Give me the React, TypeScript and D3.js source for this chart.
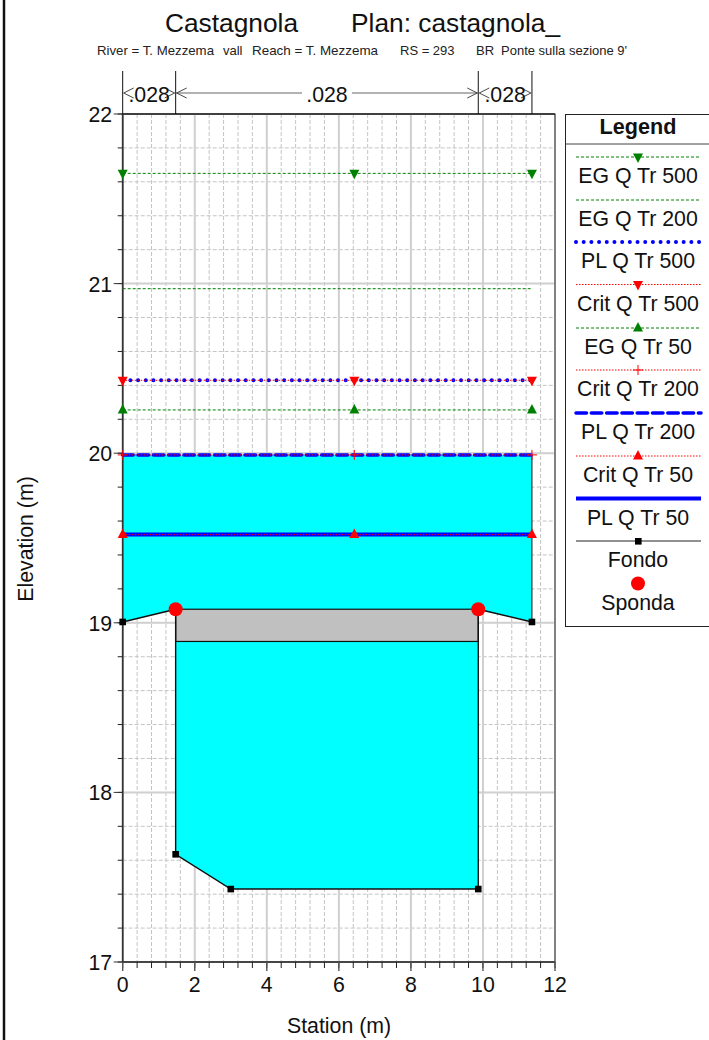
import React from "react";
import * as d3 from "d3";

const sectionStations = [0, 6.43, 11.36];
const profileNames = ["Fondo"];
const groundX = [0, 1.47, 1.47, 3.0, 9.87, 9.87, 11.36];
const groundY = [19.005, 19.08, 17.635, 17.43, 17.43, 19.08, 19.005];
const bankX = [1.47, 9.87];
const bankY = [19.08, 19.08];
const deckLow = 18.89;
const deckHigh = 19.08;
const fillLevel = 19.99;
const nBreaks = [0, 1.47, 9.87, 11.36];
const nLabels = [".028", ".028", ".028"];
const xTicks = [0, 2, 4, 6, 8, 10, 12];
const yTicks = [17, 18, 19, 20, 21, 22];
const xMinor = d3.range(0, 12.01, 0.4);
const yMinor = d3.range(17, 22.01, 0.2);

type Mk = "down" | "up" | "plus" | "none";
const wsNames = ["EG Q Tr 500", "EG Q Tr 200", "PL Q Tr 500", "Crit Q Tr 500", "EG Q Tr 50", "Crit Q Tr 200", "PL Q Tr 200", "Crit Q Tr 50", "PL Q Tr 50"];
const wsValues = [21.65, 20.97, 20.43, 20.43, 20.255, 19.99, 19.99, 19.52, 19.52];
const wsColors = ["#008000", "#008000", "#0000ff", "#ff0000", "#008000", "#ff0000", "#0000ff", "#ff0000", "#0000ff"];
const wsWidths = [1, 1, 4, 1, 1, 1, 3.5, 1, 4];
const wsDash = ["3 2", "3 2", "0.01 7.68", "1.5 1.5", "3 2", "1.5 1.5", "10.5 4.8", "1.5 1.5", ""];
const wsMarks: Mk[] = ["down", "none", "none", "down", "up", "plus", "none", "up", "none"];
const legendLineY = [157, 200, 242, 284.5, 328, 370, 413, 456, 498.5];
const drawOrder = [8, 6, 2, 7, 5, 4, 3, 1, 0];

const x = d3.scaleLinear().domain([0, 12]).range([122.7, 555]);
const y = d3.scaleLinear().domain([17, 22]).range([962, 114]);
const ln = d3.line<number>().x((_, i) => x(groundX[i])).y((_, i) => y(groundY[i]));
const FONT = "'Liberation Sans', Arial, sans-serif";
const FS = 21.3;

function Marker({ kind, cx, cy, color }: { kind: Mk; cx: number; cy: number; color: string }) {
  if (kind === "none") return null;
  if (kind === "plus")
    return <path d={`M${cx - 5},${cy}H${cx + 5}M${cx},${cy - 5}V${cy + 5}`} stroke={color} strokeWidth={1} fill="none" />;
  const d = kind === "down"
    ? `M${cx - 5},${cy - 3.5}H${cx + 5}L${cx},${cy + 6}Z`
    : `M${cx - 5},${cy + 3.5}H${cx + 5}L${cx},${cy - 6}Z`;
  return <path d={d} fill={color} />;
}

const roundCap = (i: number) => (i === 2 || i === 6 ? "round" : "butt");

export default function App() {
  const waterPts: [number, number][] = [
    [x(0), y(fillLevel)], [x(11.36), y(fillLevel)],
    ...groundX.map((g, i) => [x(g), y(groundY[i])] as [number, number]).reverse(),
  ];
  const arrowY = 93;
  return (
    <svg width={709} height={1040} style={{ position: "absolute", left: 0, top: 0, background: "#fff" }} fontFamily={FONT}>
      <line x1={4} x2={4} y1={0} y2={1040} stroke="#111" strokeWidth={2.5} />

      <text x={165} y={32} fontSize={26.3} fill="#111">Castagnola</text>
      <text x={351} y={32} fontSize={26.3} fill="#111">Plan: castagnola_</text>
      <g fontSize={13} fill="#222">
        <text x={97} y={55} textLength={117} lengthAdjust="spacingAndGlyphs">River = T. Mezzema</text>
        <text x={223} y={55}>vall</text>
        <text x={252} y={55} textLength={126} lengthAdjust="spacingAndGlyphs">Reach = T. Mezzema</text>
        <text x={400} y={55}>RS = 293</text>
        <text x={476} y={55}>BR</text>
        <text x={501} y={55}>Ponte sulla sezione 9'</text>
      </g>

      {/* grid */}
      {yMinor.map((v) => <line key={"gy" + v} x1={x(0)} x2={x(12)} y1={y(v)} y2={y(v)} stroke="#c4c4c4" strokeWidth={1} strokeDasharray="4 2" />)}
      {xMinor.map((v) => <line key={"gx" + v} x1={x(v)} x2={x(v)} y1={y(22)} y2={y(17)} stroke="#c4c4c4" strokeWidth={1} strokeDasharray="4 2" />)}
      {yTicks.map((v) => <line key={"My" + v} x1={x(0)} x2={x(12)} y1={y(v)} y2={y(v)} stroke="#d0d0d0" strokeWidth={2} />)}
      {xTicks.map((v) => <line key={"Mx" + v} x1={x(v)} x2={x(v)} y1={y(22)} y2={y(17)} stroke="#d0d0d0" strokeWidth={2} />)}

      {/* water and deck */}
      <polygon points={waterPts.map((p) => p.join(",")).join(" ")} fill="#00ffff" />
      <rect x={x(bankX[0])} width={x(bankX[1]) - x(bankX[0])} y={y(deckHigh)} height={y(deckLow) - y(deckHigh)} fill="#c0c0c0" stroke="#111" strokeWidth={1.2} />
      <line x1={x(11.36)} x2={x(11.36)} y1={y(fillLevel)} y2={y(groundY[6])} stroke="#111" strokeWidth={1} />

      {/* frame and ticks */}
      <rect x={x(0)} y={y(22)} width={x(12) - x(0)} height={y(17) - y(22)} fill="none" stroke="#333" strokeWidth={1} />
      <line x1={x(0)} x2={x(12)} y1={y(22)} y2={y(22)} stroke="#000" strokeWidth={1.2} />
      <line x1={x(0)} x2={x(0)} y1={y(22)} y2={y(17)} stroke="#333" strokeWidth={1.6} />
      <line x1={x(0)} x2={x(12)} y1={y(17)} y2={y(17)} stroke="#333" strokeWidth={1.4} />
      {yMinor.map((v) => <line key={"ty" + v} x1={x(0) - 5} x2={x(0)} y1={y(v)} y2={y(v)} stroke="#222" strokeWidth={1} />)}
      {xMinor.map((v) => <line key={"tx" + v} x1={x(v)} x2={x(v)} y1={y(17)} y2={y(17) + 6} stroke="#222" strokeWidth={1} />)}
      {yTicks.map((v) => (
        <g key={"ly" + v}>
          <line x1={x(0) - 9} x2={x(0)} y1={y(v)} y2={y(v)} stroke="#333" strokeWidth={1} />
          <text x={x(0) - 10.5} y={y(v) + 8} fontSize={FS} textAnchor="end" fill="#111">{v}</text>
        </g>
      ))}
      {xTicks.map((v) => (
        <g key={"lx" + v}>
          <line x1={x(v)} x2={x(v)} y1={y(17)} y2={y(17) + 9} stroke="#555" strokeWidth={1.4} />
          <text x={x(v)} y={991.5} fontSize={FS} textAnchor="middle" fill="#111">{v}</text>
        </g>
      ))}
      <text x={339} y={1033} fontSize={FS} textAnchor="middle" fill="#111">Station (m)</text>
      <text transform="translate(33,539) rotate(-90)" fontSize={FS} textAnchor="middle" fill="#111">Elevation (m)</text>

      {/* Manning n bands */}
      {nBreaks.map((b) => <line key={"nb" + b} x1={x(b)} x2={x(b)} y1={71} y2={y(22)} stroke="#111" strokeWidth={1} />)}
      {nLabels.map((t, i) => {
        const a = x(nBreaks[i]);
        const b = x(nBreaks[i + 1]);
        const m = (a + b) / 2;
        const wide = b - a > 100;
        return (
          <g key={"n" + i}>
            {wide && (
              <>
                <line x1={a} x2={m - 25} y1={arrowY} y2={arrowY} stroke="#666" strokeWidth={1.2} />
                <line x1={m + 25} x2={b} y1={arrowY} y2={arrowY} stroke="#666" strokeWidth={1.2} />
              </>
            )}
            <path d={`M${a + 11},${arrowY - 5}L${a + 1},${arrowY}L${a + 11},${arrowY + 5}M${b - 11},${arrowY - 5}L${b - 1},${arrowY}L${b - 11},${arrowY + 5}`} fill="none" stroke="#333" strokeWidth={0.9} />
            <text x={m} y={arrowY + 9} fontSize={FS} textAnchor="middle" fill="#111">{t}</text>
          </g>
        );
      })}

      {/* water surfaces */}
      {drawOrder.map((i) => (
        <g key={wsNames[i]}>
          <line x1={x(0)} x2={x(11.36)} y1={y(wsValues[i])} y2={y(wsValues[i])} stroke={wsColors[i]} strokeWidth={wsWidths[i]} strokeDasharray={wsDash[i]} strokeLinecap={roundCap(i)} />
          {sectionStations.map((s) => <Marker key={s} kind={wsMarks[i]} cx={x(s)} cy={y(wsValues[i])} color={wsColors[i]} />)}
        </g>
      ))}

      {/* ground */}
      <path d={ln(groundX) || ""} fill="none" stroke="#111" strokeWidth={1.4} />
      {groundX.map((g, i) => (
        (i === 1 || i === 5) ? null :
          <rect key={i} x={x(g) - 3.3} y={y(groundY[i]) - 3.3} width={6.6} height={6.6} fill="#000" />
      ))}
      {bankX.map((b, i) => <circle key={"bank" + i} cx={x(b)} cy={y(bankY[i])} r={7} fill="#ff0000" />)}

      {/* legend */}
      <rect x={565.5} y={114.5} width={160} height={512} fill="#fff" stroke="#222" strokeWidth={1} />
      <line x1={565.5} x2={709} y1={144} y2={144} stroke="#444" strokeWidth={1} />
      <text x={638} y={134} fontSize={21.6} fontWeight="bold" textAnchor="middle" fill="#111">Legend</text>
      {wsNames.map((n, i) => (
        <g key={"lg" + n}>
          <line x1={576} x2={701} y1={legendLineY[i]} y2={legendLineY[i]} stroke={wsColors[i]} strokeWidth={wsWidths[i]} strokeDasharray={wsDash[i]} strokeLinecap={roundCap(i)} />
          <Marker kind={wsMarks[i]} cx={638} cy={legendLineY[i]} color={wsColors[i]} />
          <text x={638} y={legendLineY[i] + 26} fontSize={FS} textAnchor="middle" fill="#111">{n}</text>
        </g>
      ))}
      <line x1={576} x2={701} y1={541} y2={541} stroke="#222" strokeWidth={1} />
      <rect x={635} y={538} width={6.6} height={6.6} fill="#000" />
      <text x={638} y={567} fontSize={FS} textAnchor="middle" fill="#111">{profileNames[0]}</text>
      <circle cx={638} cy={583.5} r={7} fill="#ff0000" />
      <text x={638} y={610} fontSize={FS} textAnchor="middle" fill="#111">Sponda</text>
    </svg>
  );
}
